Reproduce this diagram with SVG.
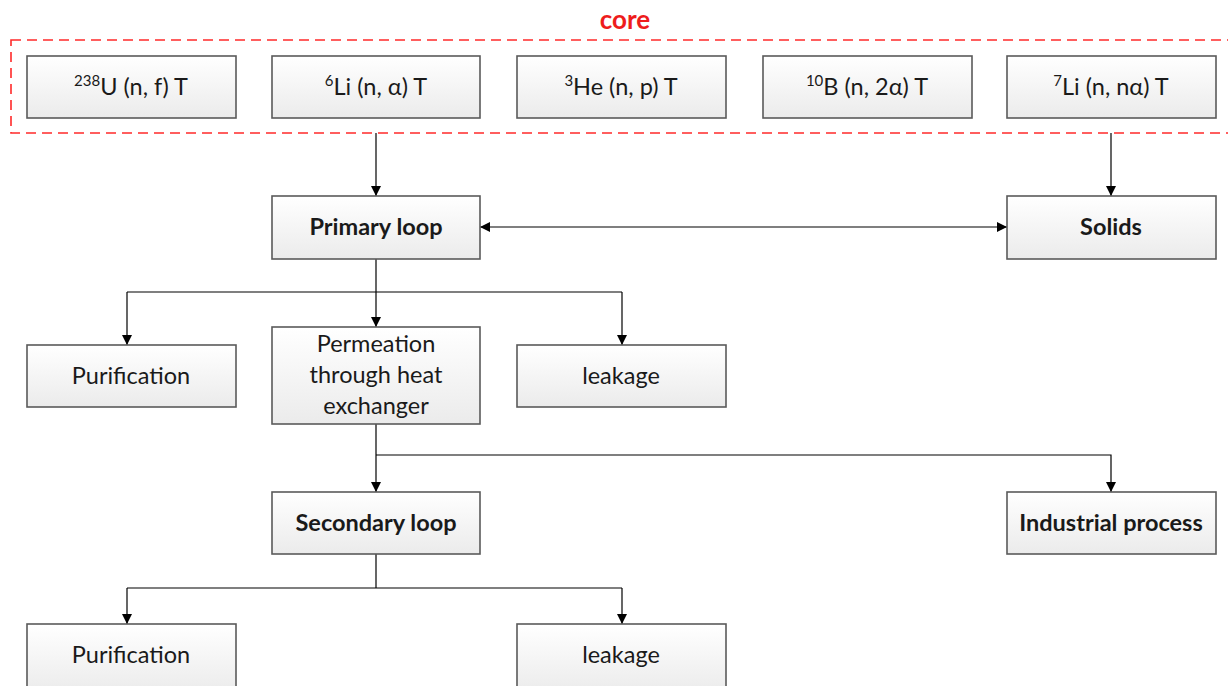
<svg xmlns="http://www.w3.org/2000/svg" width="1228" height="686" viewBox="0 0 1228 686">
<style>
.box{fill:url(#g);stroke:#5a5a5a;stroke-width:1.6}
.t{font-family:Lato,"Open Sans",sans-serif;font-size:23.5px;fill:#1a1a1a;text-anchor:middle}
.b{font-weight:bold}
.sup{font-size:15px}
.c{fill:none;stroke:#000;stroke-width:1.2}
</style>
<defs>
<linearGradient id="g" x1="0" y1="0" x2="0" y2="1">
<stop offset="0" stop-color="#ffffff"/>
<stop offset="1" stop-color="#ebebeb"/>
</linearGradient>
<marker id="a" viewBox="0 0 10 10" refX="10" refY="5" markerWidth="10" markerHeight="10" markerUnits="userSpaceOnUse" orient="auto-start-reverse">
<path d="M0,0 L10,5 L0,10 Z" fill="#000"/>
</marker>
</defs>
<rect width="1228" height="686" fill="#fff"/>
<g id="core">
<rect x="11" y="40" width="1230" height="93" fill="none" stroke="#ff2a2a" stroke-width="1.6" stroke-dasharray="10,6"/>
<text x="625" y="29" font-family="Lato,'Open Sans',sans-serif" font-size="26" font-weight="bold" fill="#ee1c1c" text-anchor="middle">core</text>
</g>
<g id="connectors">
<path class="c" d="M376,133 V196" marker-end="url(#a)"/>
<path class="c" d="M1111,133 V196" marker-end="url(#a)"/>
<path class="c" d="M480,227 H1007" marker-start="url(#a)" marker-end="url(#a)"/>
<path class="c" d="M376,259 V327" marker-end="url(#a)"/>
<path class="c" d="M127,292 H622"/>
<path class="c" d="M127,292 V345" marker-end="url(#a)"/>
<path class="c" d="M622,292 V345" marker-end="url(#a)"/>
<path class="c" d="M376,424 V492" marker-end="url(#a)"/>
<path class="c" d="M376,455 H1111 V492" marker-end="url(#a)"/>
<path class="c" d="M376,554 V588"/>
<path class="c" d="M127,588 H622"/>
<path class="c" d="M127,588 V624" marker-end="url(#a)"/>
<path class="c" d="M622,588 V624" marker-end="url(#a)"/>
</g>
<g id="u238"><rect class="box" x="27" y="56" width="209" height="62"/><text class="t" x="131" y="95"><tspan class="sup" dy="-9">238</tspan><tspan dy="9">U (n, f) T</tspan></text></g>
<g id="li6"><rect class="box" x="272" y="56" width="208" height="62"/><text class="t" x="376" y="95"><tspan class="sup" dy="-9">6</tspan><tspan dy="9">Li (n, α) T</tspan></text></g>
<g id="he3"><rect class="box" x="517" y="56" width="209" height="62"/><text class="t" x="621" y="95"><tspan class="sup" dy="-9">3</tspan><tspan dy="9">He (n, p) T</tspan></text></g>
<g id="b10"><rect class="box" x="763" y="56" width="209" height="62"/><text class="t" x="867" y="95"><tspan class="sup" dy="-9">10</tspan><tspan dy="9">B (n, 2α) T</tspan></text></g>
<g id="li7"><rect class="box" x="1007" y="56" width="209" height="62"/><text class="t" x="1111" y="95"><tspan class="sup" dy="-9">7</tspan><tspan dy="9">Li (n, nα) T</tspan></text></g>
<g id="primary"><rect class="box" x="272" y="196" width="208" height="63"/><text class="t b" x="376" y="235">Primary loop</text></g>
<g id="solids"><rect class="box" x="1007" y="196" width="209" height="63"/><text class="t b" x="1111" y="235">Solids</text></g>
<g id="purif1"><rect class="box" x="27" y="345" width="209" height="62"/><text class="t" x="131" y="384">Purification</text></g>
<g id="perm"><rect class="box" x="272" y="327" width="208" height="97"/><text class="t" x="376" y="352">Permeation</text><text class="t" x="376" y="383">through heat</text><text class="t" x="376" y="414">exchanger</text></g>
<g id="leak1"><rect class="box" x="517" y="345" width="209" height="62"/><text class="t" x="621" y="384">leakage</text></g>
<g id="secondary"><rect class="box" x="272" y="492" width="208" height="62"/><text class="t b" x="376" y="531">Secondary loop</text></g>
<g id="industrial"><rect class="box" x="1007" y="492" width="209" height="62"/><text class="t b" x="1111" y="531">Industrial process</text></g>
<g id="purif2"><rect class="box" x="27" y="624" width="209" height="70"/><text class="t" x="131" y="663">Purification</text></g>
<g id="leak2"><rect class="box" x="517" y="624" width="209" height="70"/><text class="t" x="621" y="663">leakage</text></g>
</svg>
